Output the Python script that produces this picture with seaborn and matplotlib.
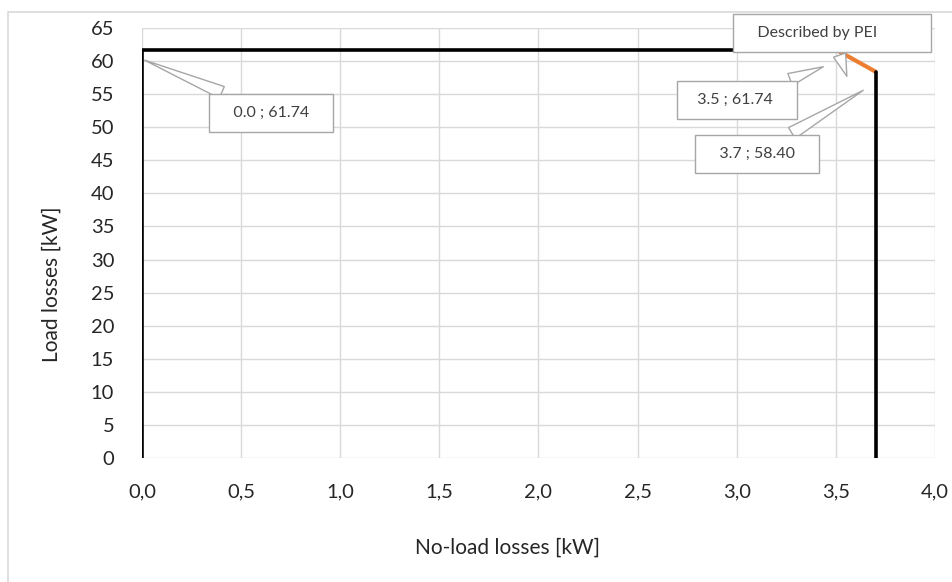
import seaborn as sns
import matplotlib.pyplot as plt
from matplotlib.patches import Rectangle

# path of the loss envelope
x_left = [0.0, 0.0, 3.5]
y_left = [0.0, 61.74, 61.74]
x_pei = [3.5, 3.7]
y_pei = [61.74, 58.40]
x_right = [3.7, 3.7]
y_right = [58.40, 0.0]

x_ticks = [0.0, 0.5, 1.0, 1.5, 2.0, 2.5, 3.0, 3.5, 4.0]
y_ticks = list(range(0, 70, 5))

sns.set_style("white")
plt.rcParams['font.family'] = ['Lato', 'DejaVu Sans']

fig = plt.figure(figsize=(9.53, 5.82), dpi=100)
ax = fig.add_axes([142/953, 1-458/582, (935-142)/953, (458-28)/582])

# outer frame of the chart
fig.patches.append(Rectangle((8/953, -0.05), 1.1, 1-12/582+0.05, transform=fig.transFigure,
                             fill=False, ec='#d9d9d9', lw=1.2))

sns.lineplot(x=x_left, y=y_left, sort=False, estimator=None, color='black', lw=2.6, ax=ax)
sns.lineplot(x=x_pei, y=y_pei, sort=False, estimator=None, color='#ed7d31', lw=3, ax=ax)
sns.lineplot(x=x_right, y=y_right, sort=False, estimator=None, color='black', lw=2.6, ax=ax)

ax.set_xlim(0, 4.0)
ax.set_ylim(0, 65)
ax.set_xticks(x_ticks)
ax.set_xticklabels([f"{v:.1f}".replace('.', ',') for v in x_ticks])
ax.set_yticks(y_ticks)
ax.grid(True, color='#d9d9d9', lw=1)
for s in ax.spines.values():
    s.set_visible(False)
ax.tick_params(axis='both', labelsize=14.5, colors='#262626', length=0)
ax.tick_params(axis='x', pad=18)
ax.tick_params(axis='y', pad=20)

fig.text(508/953, 1-548/582, "No-load losses [kW]", fontsize=15, color='#262626', ha='center', va='center')
fig.text(52/953, 1-284/582, "Load losses [kW]", fontsize=15, color='#262626', ha='center', va='center', rotation=90)

box = dict(boxstyle='square,pad=0.75', fc='white', ec='#a6a6a6', lw=1)
arrow = dict(arrowstyle='wedge,tail_width=0.8,shrink_factor=0.5', fc='white', ec='#a6a6a6', lw=1)

ax.annotate("   0.0 ; 61.74   ", xy=(0.0, 60.3), xytext=(271/953, 1-113/582), textcoords='figure fraction',
            fontsize=11.5, color='#404040', ha='center', va='center', bbox=box, arrowprops=arrow)
ax.annotate("  3.5 ; 61.74   ", xy=(3.45, 59.3), xytext=(737/953, 1-100/582), textcoords='figure fraction',
            fontsize=11.5, color='#404040', ha='center', va='center', bbox=box, arrowprops=arrow)
ax.annotate("   3.7 ; 58.40   ", xy=(3.65, 55.8), xytext=(757/953, 1-154/582), textcoords='figure fraction',
            fontsize=11.5, color='#404040', ha='center', va='center', bbox=box, arrowprops=arrow)
ax.annotate("   Described by PEI          ", xy=(3.56, 57.3), xytext=(832/953, 1-33/582), textcoords='figure fraction',
            fontsize=11.5, color='#404040', ha='center', va='center', bbox=box, arrowprops=arrow)

fig.savefig("out.png", dpi=100)
